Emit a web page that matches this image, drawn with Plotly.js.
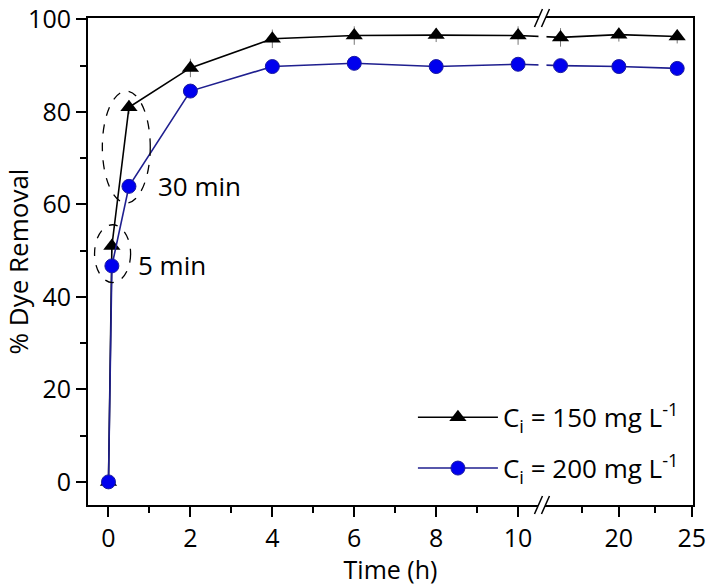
<!DOCTYPE html>
<html>
<head>
<meta charset="utf-8">
<script src="https://cdn.plot.ly/plotly-3.0.1.min.js"></script>
<style>
  body { margin: 0; background: #fff; }
  #plot { width: 708px; height: 586px; }
</style>
</head>
<body>
<div id="plot"></div>
<script>
// time points (h), 5 min and 30 min are the first two after zero
const timeH = [0, 0.083, 0.5, 2, 4, 6, 8, 10, 16, 20, 24];
// % dye removal for the two initial concentrations
const removal150 = [0, 51, 81, 89.5, 95.8, 96.5, 96.6, 96.5, 96.1, 96.7, 96.3];
const removal200 = [0, 46.7, 63.9, 84.5, 89.8, 90.5, 89.8, 90.3, 90.0, 89.8, 89.4];
const err150 = [0, 1.5, 1.5, 2, 2, 2, 1.5, 2, 2, 1.5, 1.5];

const majorTicks = [0, 2, 4, 6, 8, 10, 20, 25];
const minorTicks = [1, 3, 5, 7, 9, 17.5, 22.5];
const yTicks = [0, 20, 40, 60, 80, 100];
const yMinorTicks = [10, 30, 50, 70, 90];

// broken x axis: 0..10.65 h drawn on a linear scale, 15..25 h squeezed after the break
const breakLo = 10.65;
const breakHi = 15;
const seg2Start = 10.68;
const seg2Scale = 0.356;
function toU(h) {
    return h <= breakLo ? h : seg2Start + (h - breakHi) * seg2Scale;
}
const breakU = (breakLo + seg2Start) / 2 - 0.07;

let trace150 = {
    x: timeH.map(toU),
    y: removal150,
    name: "C<sub>i</sub> = 150 mg L<sup>-1</sup>",
    legendgroup: "a",
    type: "scatter",
    mode: "lines+markers",
    line: { color: "#000000", width: 1.6 },
    marker: { symbol: "triangle-up", size: 15, color: "#000000" },
    error_y: { type: "data", array: err150, visible: true, color: "#777777", thickness: 1, width: 0 }
};

let trace200 = {
    x: timeH.map(toU),
    y: removal200,
    name: "C<sub>i</sub> = 200 mg L<sup>-1</sup>",
    legendgroup: "b",
    type: "scatter",
    mode: "lines+markers",
    line: { color: "#1f1f8f", width: 1.6 },
    marker: { symbol: "circle", size: 14, color: "#0000ee", line: { color: "#1a1aa0", width: 1 } }
};

let fontFam = "Open Sans, sans-serif";

// break marks "//" on the top and bottom axis lines
function breakMarks(yPaper) {
    return [
        {
            type: "path", xref: "x", yref: "paper", xsizemode: "pixel", ysizemode: "pixel",
            xanchor: breakU, yanchor: yPaper,
            path: "M-8,-9 L0,9 L7,9 L-1,-9 Z",
            fillcolor: "#ffffff", line: { width: 0 }, layer: "above"
        },
        {
            type: "path", xref: "x", yref: "paper", xsizemode: "pixel", ysizemode: "pixel",
            xanchor: breakU, yanchor: yPaper,
            path: "M-8,-9 L0,9 M-1,-9 L7,9",
            line: { color: "#000000", width: 1.5 }, layer: "above"
        }
    ];
}

let shapes = [
    // white gap through the plot at the break
    {
        type: "rect", xref: "x", yref: "paper", xsizemode: "pixel",
        xanchor: breakU, x0: -4, x1: 4, y0: 0, y1: 1,
        fillcolor: "#ffffff", line: { width: 0 }, layer: "above"
    },
    ...breakMarks(1),
    ...breakMarks(0),
    // dashed ellipses around the 5 min and 30 min points
    {
        type: "circle", xref: "x", yref: "y",
        x0: -0.15, x1: 1.02, y0: 60.3, y1: 84.5,
        line: { color: "#000000", width: 1.3, dash: "dash" }
    },
    {
        type: "circle", xref: "x", yref: "y",
        x0: -0.34, x1: 0.54, y0: 43.1, y1: 55.6,
        line: { color: "#000000", width: 1.3, dash: "dash" }
    }
];

let layout = {
    width: 708,
    height: 586,
    margin: { l: 88, r: 15, t: 18, b: 81 },
    paper_bgcolor: "#ffffff",
    plot_bgcolor: "#ffffff",
    font: { family: fontFam, size: 25, color: "#000000" },
    showlegend: true,
    legend: {
        x: 0.985, xanchor: "right", y: 0.027, yanchor: "bottom",
        font: { family: fontFam, size: 26, color: "#000000" },
        bgcolor: "rgba(0,0,0,0)",
        tracegroupgap: 14,
        itemwidth: 80
    },
    xaxis: {
        range: [-0.5, toU(25) + 0.03],
        tickmode: "array",
        tickvals: majorTicks.map(toU),
        ticktext: majorTicks.map(String),
        ticks: "outside", ticklen: 10, tickwidth: 2, tickcolor: "#000000",
        minor: { tickmode: "array", tickvals: minorTicks.map(toU), ticks: "outside", ticklen: 6, tickwidth: 2, tickcolor: "#000000" },
        showline: true, linewidth: 2, linecolor: "#000000", mirror: true,
        showgrid: false, zeroline: false,
        tickfont: { size: 25 },
        title: { text: "Time (h)", font: { size: 25 }, standoff: 6 }
    },
    yaxis: {
        range: [-5, 100.3],
        tickmode: "array", tickvals: yTicks, ticktext: yTicks.map(String),
        ticks: "outside", ticklen: 10, tickwidth: 2, tickcolor: "#000000",
        minor: { tickmode: "array", tickvals: yMinorTicks, ticks: "outside", ticklen: 6, tickwidth: 2, tickcolor: "#000000" },
        showline: true, linewidth: 2, linecolor: "#000000", mirror: true,
        showgrid: false, zeroline: false,
        ticklabeloverflow: "allow",
        tickfont: { size: 25 },
        title: { text: "% Dye Removal", font: { size: 26 }, standoff: 4 }
    },
    annotations: [
        { x: 1.15, y: 64, xref: "x", yref: "y", text: "30 min", showarrow: false, xanchor: "left", font: { size: 26 } },
        { x: 0.66, y: 46.8, xref: "x", yref: "y", text: "5 min", showarrow: false, xanchor: "left", font: { size: 26 } }
    ],
    shapes: shapes
};

Plotly.newPlot("plot", [trace150, trace200], layout, { displayModeBar: false, staticPlot: true });
</script>
</body>
</html>
